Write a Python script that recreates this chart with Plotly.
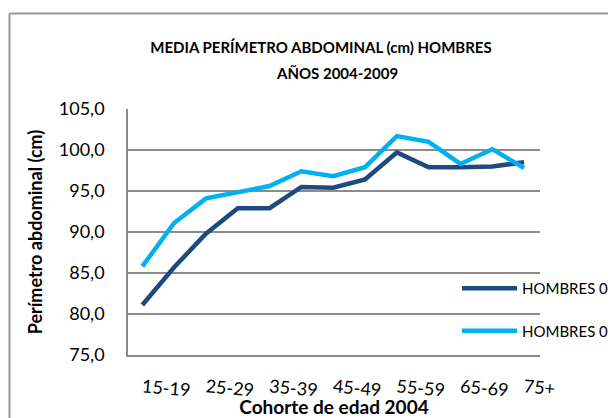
import plotly.graph_objects as go

categories = ["15-19", "20-24", "25-29", "30-34", "35-39", "40-44", "45-49",
              "50-54", "55-59", "60-64", "65-69", "70-74", "75+"]
hombres_04 = [81.1, 85.7, 89.8, 92.9, 92.9, 95.5, 95.4, 96.4, 99.7, 97.9, 97.9, 98.0, 98.5]
hombres_09 = [85.8, 91.1, 94.1, 94.9, 95.6, 97.4, 96.8, 97.9, 101.7, 101.0, 98.3, 100.1, 97.8]
tick_labels = categories[::2]

FONT = "Lato"
GRID = "#8c8c8c"

# plot area in page pixels (the page body adds an 8px offset)
PX0, PX1, PY0, PY1 = 128, 540, 109, 355


def px(x):
    return (x - PX0) / (PX1 - PX0)


def py(y):
    return (PY1 - y) / (PY1 - PY0)


fig = go.Figure()
fig.add_trace(go.Scatter(x=categories, y=hombres_04, mode="lines", name="HOMBRES 04",
                         legendgroup="a", line=dict(color="#1F4A7E", width=4.5)))
fig.add_trace(go.Scatter(x=categories, y=hombres_09, mode="lines", name="HOMBRES 09",
                         legendgroup="b", line=dict(color="#00B0F0", width=4.5)))

# frame lines of the original sheet
frame = dict(color="#999999", width=2)
fig.add_shape(type="line", xref="paper", yref="paper", x0=px(9.5), x1=px(9.5),
              y0=py(430), y1=py(13.5), line=frame)
fig.add_shape(type="line", xref="paper", yref="paper", x0=px(9.5), x1=px(630),
              y0=py(13.5), y1=py(13.5), line=frame)

# second title line
fig.add_annotation(text="<b>AÑOS 2004-2009</b>", xref="paper", yref="paper",
                   x=px(337), y=py(73), xanchor="center", yanchor="middle",
                   showarrow=False, font=dict(size=15, family=FONT))

fig.update_layout(
    width=608, height=410,
    margin=dict(l=PX0 - 8, r=616 - PX1, t=PY0 - 8, b=418 - PY1, autoexpand=False),
    paper_bgcolor="white", plot_bgcolor="white",
    separators=",.",
    font=dict(family=FONT, color="#000000"),
    title=dict(text="<b>MEDIA PERÍMETRO ABDOMINAL (cm) HOMBRES</b>",
               x=(321 - 8) / 608, xanchor="center", y=1 - 40 / 410, yanchor="middle",
               font=dict(size=15, family=FONT)),
    showlegend=True,
    legend=dict(x=px(457), y=py(272), xanchor="left", yanchor="top",
                font=dict(size=15, family=FONT), traceorder="grouped", tracegroupgap=20,
                bgcolor="rgba(0,0,0,0)", itemwidth=55),
    xaxis=dict(
        type="category", range=[-0.45, 12.5], automargin=False,
        tickmode="array", tickvals=tick_labels, ticktext=tick_labels,
        tickangle=5, ticks="", showgrid=False, ticklabelstandoff=14,
        showline=True, linecolor=GRID, linewidth=1.5,
        tickfont=dict(size=18, family=FONT),
        title=dict(text="<b>Cohorte de edad 2004</b>", standoff=2,
                   font=dict(size=19, family=FONT)),
    ),
    yaxis=dict(
        range=[75, 105], dtick=5, tickformat=".1f", automargin=False,
        showgrid=True, gridcolor=GRID, gridwidth=1.5,
        showline=True, linecolor=GRID, linewidth=1.5,
        ticks="", ticklabelstandoff=18,
        zeroline=False,
        tickfont=dict(size=18, family=FONT),
        title=dict(text="<b>Perímetro abdominal (cm)</b>", standoff=11,
                   font=dict(size=18, family=FONT)),
    ),
)

fig.write_html("out.html")
